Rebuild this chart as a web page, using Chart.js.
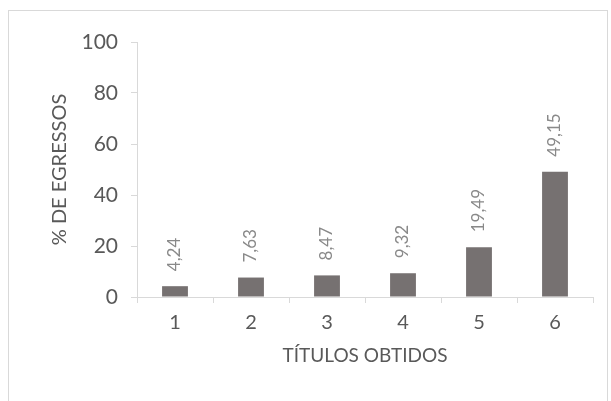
<!DOCTYPE html>
<html>
<head>
<meta charset="utf-8">
<script src="https://cdn.jsdelivr.net/npm/chart.js@4.4.0/dist/chart.umd.min.js"></script>
<style>
  html, body { margin: 0; padding: 0; background: #fff; }
  #wrap { position: relative; width: 611px; height: 401px; }
  #frame { position: absolute; left: 8px; top: 10px; width: 598px; height: 400px;
           border: 1px solid #d9d9d9; border-bottom: none; }
  canvas { position: absolute; left: 0; top: 0; }
</style>
</head>
<body>
<div id="wrap">
  <div id="frame"></div>
  <canvas id="barChart" width="611" height="401"></canvas>
</div>
<script>
var categories = ['1', '2', '3', '4', '5', '6']
var percentages = [4.24, 7.63, 8.47, 9.32, 19.49, 49.15]
var yTicks = [0, 20, 40, 60, 80, 100]

// value labels written vertically above each bar, with comma decimals
var barValueLabels = {
	id: 'barValueLabels',
	afterDatasetsDraw: function (chart) {
		var ctx = chart.ctx
		var meta = chart.getDatasetMeta(0)
		ctx.save()
		ctx.font = '17px Lato'
		ctx.fillStyle = '#898989'
		ctx.textAlign = 'left'
		ctx.textBaseline = 'middle'
		meta.data.forEach(function (bar, i) {
			var txt = percentages[i].toFixed(2).replace('.', ',')
			ctx.save()
			ctx.translate(bar.x, bar.y - 15)
			ctx.rotate(-Math.PI / 2)
			ctx.fillText(txt, 0, 0)
			ctx.restore()
		})
		ctx.restore()
	}
}

var ctxB = document.getElementById('barChart').getContext('2d')
var myBarChart = new Chart(ctxB, {
	type: 'bar',
	data: {
		labels: categories,
		datasets: [{
			data: percentages,
			backgroundColor: '#767171',
			barPercentage: 0.34,
			categoryPercentage: 1
		}]
	},
	options: {
		responsive: false,
		animation: false,
		layout: { padding: { left: 0, right: 18, top: 42, bottom: 0 } },
		plugins: { legend: { display: false }, tooltip: { enabled: false } },
		scales: {
			x: {
				grid: { display: true, drawOnChartArea: false, offset: true, color: '#d9d9d9', tickLength: 6 },
				border: { color: '#d9d9d9', width: 1 },
				ticks: { color: '#595959', font: { family: 'Lato', size: 20 }, padding: 8 },
				title: { display: true, text: 'TÍTULOS OBTIDOS', color: '#595959',
					font: { family: 'Lato', size: 19 }, padding: { top: 0, bottom: 34 } },
				afterFit: function (scale) { scale.height = 104 }
			},
			y: {
				min: 0,
				max: 100,
				afterBuildTicks: function (scale) {
					scale.ticks = yTicks.map(function (v) { return { value: v } })
				},
				grid: { display: true, drawOnChartArea: false, color: '#d9d9d9', tickLength: 6 },
				border: { color: '#d9d9d9', width: 1 },
				ticks: { color: '#595959', font: { family: 'Lato', size: 21 }, padding: 13 },
				title: { display: true, text: '% DE EGRESSOS', color: '#595959',
					font: { family: 'Lato', size: 20 }, padding: { top: 48, bottom: 0 } },
				afterFit: function (scale) { scale.width = 137 }
			}
		}
	},
	plugins: [barValueLabels]
})
</script>
</body>
</html>
